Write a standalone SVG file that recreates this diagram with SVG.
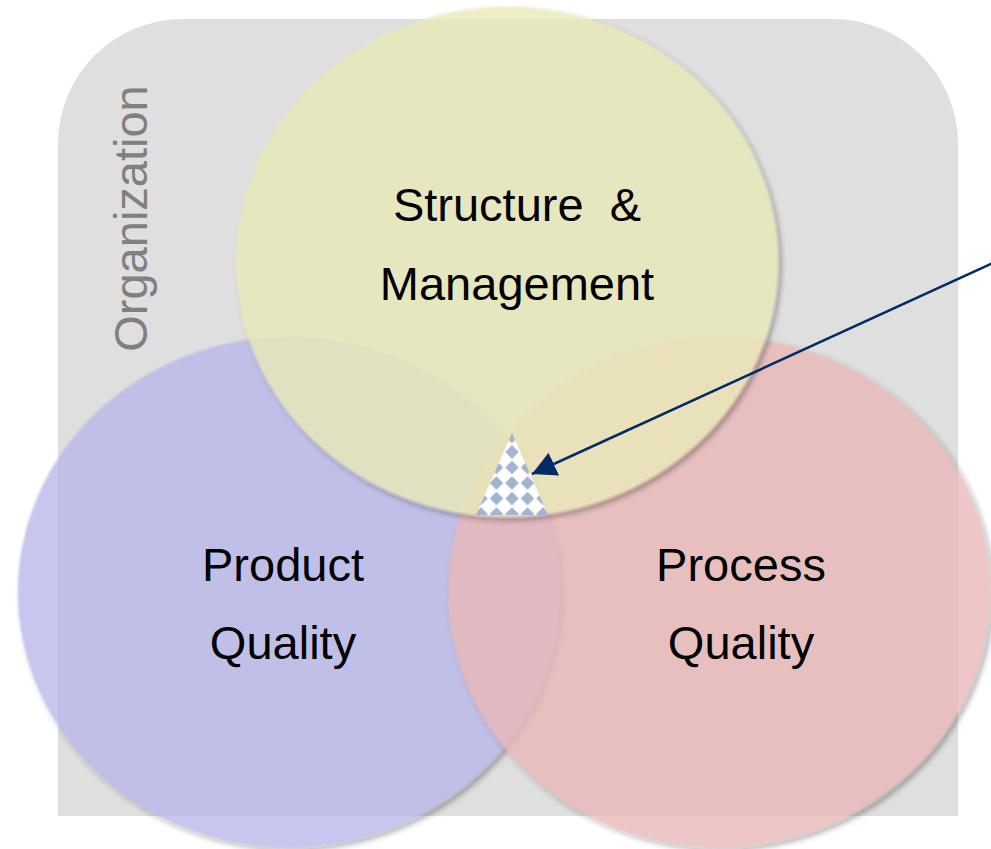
<svg xmlns="http://www.w3.org/2000/svg" width="991" height="849" viewBox="0 0 991 849">
  <style>
    .lbl { font-family: "Liberation Sans", Arial, sans-serif; font-size: 47px; fill: #000; text-anchor: middle; }
    .org { font-family: "Liberation Sans", Arial, sans-serif; font-size: 47px; fill: #808080; text-anchor: middle; }
    .circ { filter: url(#soft); }
  </style>
  <defs>
    <filter id="soft" x="-10%" y="-10%" width="120%" height="120%">
      <feGaussianBlur in="SourceAlpha" stdDeviation="3" result="b"/>
      <feOffset in="b" dx="3" dy="3" result="o"/>
      <feComponentTransfer in="o" result="s">
        <feFuncA type="linear" slope="0.45"/>
      </feComponentTransfer>
      <feGaussianBlur in="SourceGraphic" stdDeviation="1" result="g"/>
      <feMerge>
        <feMergeNode in="s"/>
        <feMergeNode in="g"/>
      </feMerge>
    </filter>
    <pattern id="diamonds" patternUnits="userSpaceOnUse" x="504.25" y="444.25" width="15.5" height="15.5">
      <rect width="15.5" height="15.5" fill="#ffffff"/>
      <path d="M7.75 1 L14.5 7.75 L7.75 14.5 L1 7.75 Z" fill="#A3B3D1"/>
    </pattern>
    <marker id="arrow" markerUnits="userSpaceOnUse" markerWidth="26" markerHeight="26" refX="24" refY="12.5" orient="auto">
      <path d="M0 0 L24 12.5 L0 25 Z" fill="#002B66"/>
    </marker>
  </defs>

  <g id="organization">
    <path d="M58 816 L58 144 A125 125 0 0 1 183 19 L833 19 A125 125 0 0 1 958 144 L958 816 Z" fill="#DFDFDF"/>
    <text class="org" transform="translate(147 218.5) rotate(-90)">Organization</text>
  </g>

  <g id="product-quality">
    <ellipse class="circ" cx="289" cy="592" rx="271" ry="255" fill="#B8B8EA" opacity="0.8"/>
    <text class="lbl" x="283" y="581">Product</text>
    <text class="lbl" x="283" y="659">Quality</text>
  </g>

  <g id="process-quality">
    <ellipse class="circ" cx="719" cy="592" rx="271" ry="255" fill="#EAB8B8" opacity="0.8"/>
    <text class="lbl" x="741" y="581">Process</text>
    <text class="lbl" x="741" y="659">Quality</text>
  </g>

  <g id="structure-management">
    <ellipse class="circ" cx="507" cy="262" rx="271" ry="255" fill="#EAEAB8" opacity="0.8"/>
    <text class="lbl" x="517" y="221" xml:space="preserve">Structure  &amp;</text>
    <text class="lbl" x="517" y="300">Management</text>
  </g>

  <g id="core">
    <path d="M512 433 L548 515 L476 515 Z" fill="url(#diamonds)"/>
  </g>

  <g id="connectors">
    <line x1="993" y1="263" x2="532" y2="474" stroke="#002B66" stroke-width="2.5" marker-end="url(#arrow)"/>
  </g>
</svg>
